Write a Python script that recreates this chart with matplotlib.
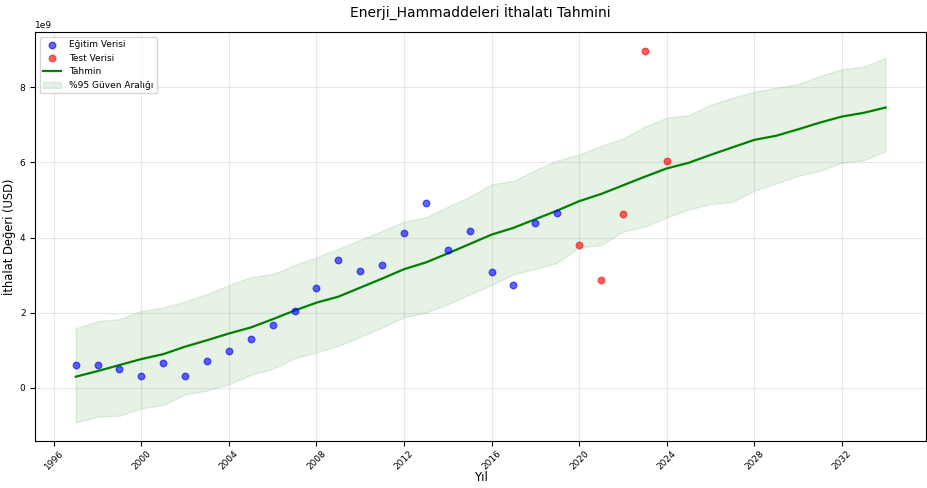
import matplotlib
matplotlib.use("Agg")
import matplotlib.pyplot as plt

# Training observations (USD)
train_years = list(range(1997, 2020))
train_values = [0.61e9, 0.62e9, 0.51e9, 0.33e9, 0.67e9, 0.33e9, 0.73e9, 0.98e9,
                1.31e9, 1.68e9, 2.05e9, 2.66e9, 3.41e9, 3.11e9, 3.28e9, 4.13e9,
                4.93e9, 3.68e9, 4.18e9, 3.08e9, 2.75e9, 4.38e9, 4.66e9]

# Test observations (USD)
test_years = [2020, 2021, 2022, 2023, 2024]
test_values = [3.81e9, 2.88e9, 4.64e9, 8.97e9, 6.03e9]

# Forecast and 95% interval
forecast_years = list(range(1997, 2035))
forecast_values = [0.30e9, 0.45e9, 0.61e9, 0.77e9, 0.90e9, 1.10e9, 1.27e9, 1.45e9,
                   1.61e9, 1.83e9, 2.06e9, 2.27e9, 2.43e9, 2.67e9, 2.91e9, 3.16e9,
                   3.34e9, 3.58e9, 3.83e9, 4.08e9, 4.26e9, 4.49e9, 4.72e9, 4.97e9,
                   5.16e9, 5.39e9, 5.62e9, 5.84e9, 5.99e9, 6.20e9, 6.40e9, 6.60e9,
                   6.71e9, 6.88e9, 7.06e9, 7.22e9, 7.32e9, 7.46e9]
upper_values = [1.59e9, 1.78e9, 1.83e9, 2.05e9, 2.14e9, 2.30e9, 2.50e9, 2.74e9,
                2.95e9, 3.03e9, 3.27e9, 3.48e9, 3.70e9, 3.94e9, 4.18e9, 4.42e9,
                4.54e9, 4.82e9, 5.09e9, 5.42e9, 5.51e9, 5.80e9, 6.05e9, 6.21e9,
                6.44e9, 6.64e9, 6.95e9, 7.19e9, 7.26e9, 7.53e9, 7.72e9, 7.88e9,
                7.99e9, 8.08e9, 8.30e9, 8.48e9, 8.55e9, 8.78e9]
lower_values = [-0.92e9, -0.76e9, -0.74e9, -0.54e9, -0.45e9, -0.17e9, -0.07e9, 0.10e9,
                0.35e9, 0.51e9, 0.79e9, 0.95e9, 1.12e9, 1.36e9, 1.61e9, 1.88e9,
                2.00e9, 2.23e9, 2.49e9, 2.74e9, 3.02e9, 3.17e9, 3.33e9, 3.74e9,
                3.80e9, 4.16e9, 4.29e9, 4.54e9, 4.75e9, 4.89e9, 4.95e9, 5.25e9,
                5.44e9, 5.64e9, 5.78e9, 5.99e9, 6.06e9, 6.30e9]

xticks = [1996, 2000, 2004, 2008, 2012, 2016, 2020, 2024, 2028, 2032]

fig, ax = plt.subplots(figsize=(9.27, 4.88), dpi=100)
fig.subplots_adjust(left=0.038, right=0.999, top=0.934, bottom=0.096)

ax.scatter(train_years, train_values, color="blue", alpha=0.6, s=22,
           label="Eğitim Verisi", zorder=3)
ax.scatter(test_years, test_values, color="red", alpha=0.6, s=22,
           label="Test Verisi", zorder=3)
ax.plot(forecast_years, forecast_values, color="green", linewidth=1.6,
        label="Tahmin", zorder=2)
ax.fill_between(forecast_years, lower_values, upper_values, color="green",
                alpha=0.1, label="%95 Güven Aralığı")

ax.set_title("Enerji_Hammaddeleri İthalatı Tahmini", fontsize=10, pad=10)
ax.set_xlabel("Yıl", fontsize=8.5, labelpad=0)
ax.set_ylabel("İthalat Değeri (USD)", fontsize=8.3, labelpad=3)
ax.set_xticks(xticks)
ax.tick_params(axis="x", labelrotation=45, labelsize=6.5, pad=2)
ax.tick_params(axis="y", labelsize=6.5)
ax.yaxis.get_offset_text().set_fontsize(6.5)
ax.grid(True, alpha=0.3)
ax.legend(loc="upper left", fontsize=6.5)

fig.savefig("out.png", dpi=100)
